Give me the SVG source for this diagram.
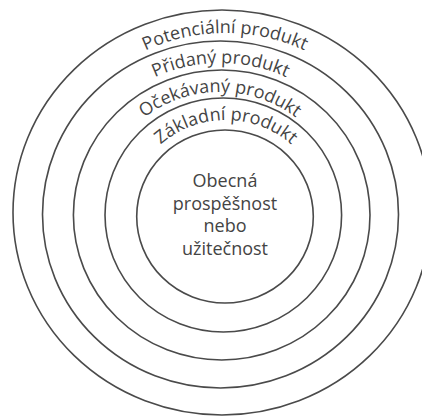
<svg xmlns="http://www.w3.org/2000/svg" width="422" height="418" viewBox="0 0 422 418">
<style>
.ring{fill:none;stroke:#4a4a4a;stroke-width:1.6}
.lbl{font-family:"Open Sans","DejaVu Sans",sans-serif;font-size:18px;fill:#444}
.ctr{font-family:"Open Sans","DejaVu Sans",sans-serif;font-size:18px;fill:#444;text-anchor:middle}
</style>
<defs>
<path id="p5" d="M 39 214.5 A 186 181.5 0 0 1 411 214.5"/>
<path id="p4" d="M 65 215 A 155.5 152 0 0 1 376 215"/>
<path id="p3" d="M 95.5 215 A 124.5 123 0 0 1 344.5 215"/>
<path id="p2" d="M 128 216.5 A 98 96.5 0 0 1 324 216.5"/>
</defs>
<rect width="422" height="418" fill="#ffffff"/>
<g id="potencialni">
<ellipse class="ring" cx="222" cy="212.5" rx="209" ry="202.5"/>
<text class="lbl"><textPath href="#p5" startOffset="50%" text-anchor="middle">Potenciální produkt</textPath></text>
</g>
<g id="pridany">
<ellipse class="ring" cx="220.5" cy="214.5" rx="178" ry="173.5"/>
<text class="lbl"><textPath href="#p4" startOffset="50%" text-anchor="middle">Přidaný produkt</textPath></text>
</g>
<g id="ocekavany">
<ellipse class="ring" cx="221.7" cy="215" rx="148.3" ry="145"/>
<text class="lbl"><textPath href="#p3" startOffset="50%" text-anchor="middle">Očekávaný produkt</textPath></text>
</g>
<g id="zakladni">
<ellipse class="ring" cx="223.3" cy="215" rx="118.3" ry="117"/>
<text class="lbl"><textPath href="#p2" startOffset="50%" text-anchor="middle">Základní produkt</textPath></text>
</g>
<g id="obecna">
<ellipse class="ring" cx="225" cy="216.5" rx="88.3" ry="86.5"/>
<text class="ctr" x="225" y="187">Obecná</text>
<text class="ctr" x="225" y="209.5">prospěšnost</text>
<text class="ctr" x="225" y="232">nebo</text>
<text class="ctr" x="225" y="254.5">užitečnost</text>
</g>
<g id="connectors"/>
</svg>
